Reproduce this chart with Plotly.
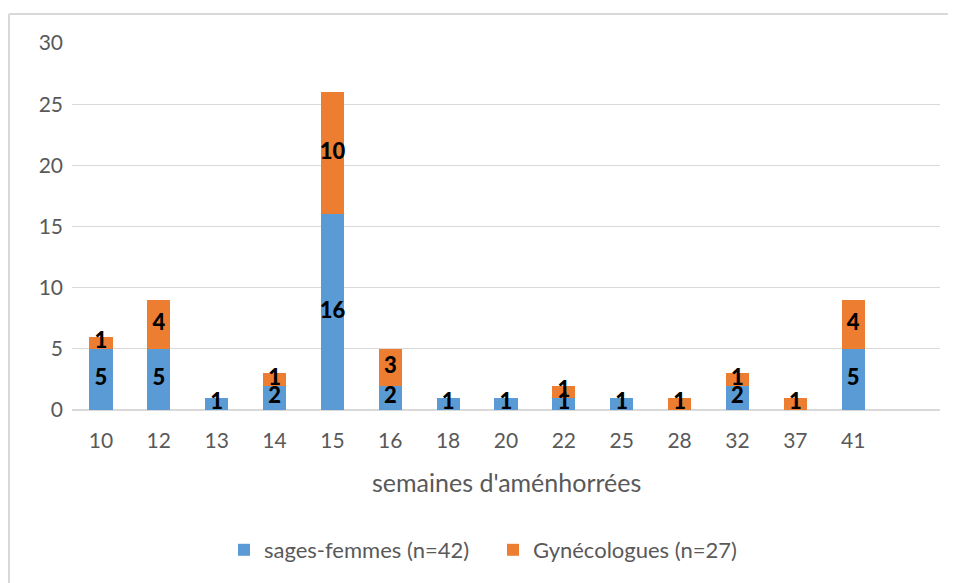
import plotly.graph_objects as go

categories = ["10", "12", "13", "14", "15", "16", "18", "20", "22", "25", "28", "32", "37", "41"]
sages_femmes = [5, 5, 1, 2, 16, 2, 1, 1, 1, 1, 0, 2, 0, 5]
gynecologues = [1, 4, 0, 1, 10, 3, 0, 0, 1, 0, 1, 1, 1, 4]
y_ticks = [0, 5, 10, 15, 20, 25, 30]

FONT = "Lato"
GREY = "#595959"
W, H = 948, 575          # page body has an 8px margin
PW, PH = 868, 367        # plot area size

fig = go.Figure()
fig.add_trace(go.Bar(x=categories, y=sages_femmes, name="sages-femmes (n=42)",
                     marker=dict(color="#5B9BD5", line=dict(width=0)), width=0.4))
fig.add_trace(go.Bar(x=categories, y=gynecologues, name="Gynécologues (n=27)",
                     marker=dict(color="#ED7D31", line=dict(width=0)), width=0.4))

# data labels at the middle of each segment (derived from data)
lab_x, lab_y, lab_t = [], [], []
for c, s, g in zip(categories, sages_femmes, gynecologues):
    if s:
        lab_x.append(c); lab_y.append(s / 2); lab_t.append(str(s))
    if g:
        lab_x.append(c); lab_y.append(s + g / 2); lab_t.append(str(g))
fig.add_trace(go.Scatter(x=lab_x, y=lab_y, text=lab_t, mode="text", showlegend=False,
                         hoverinfo="skip", cliponaxis=False,
                         textfont=dict(family=FONT, size=22, color="black", weight=900)))

border = dict(color="#D9D9D9", width=2)
fig.update_layout(
    barmode="stack",
    width=W, height=H,
    paper_bgcolor="white", plot_bgcolor="white",
    margin=dict(l=64, r=W - 64 - PW, t=35, b=H - 35 - PH, autoexpand=False),
    font=dict(family=FONT, color=GREY, size=21),
    showlegend=True,
    legend=dict(orientation="h", x=0.485, xanchor="center", y=-140 / PH, yanchor="middle",
                font=dict(size=22, color=GREY), traceorder="normal", itemwidth=30,
                entrywidth=224),
    xaxis=dict(type="category", range=[-0.5, 14.5], showgrid=False, showline=False,
               ticks="", tickfont=dict(size=21, color=GREY), ticklabelstandoff=16),
    yaxis=dict(range=[0, 30], tickvals=y_ticks, showgrid=True, gridcolor="#D9D9D9",
               gridwidth=1, zeroline=True, zerolinecolor="#D9D9D9", ticks="",
               ticklabelstandoff=8, tickfont=dict(size=21, color=GREY)),
    annotations=[dict(text="semaines d'aménhorrées", xref="paper", yref="paper",
                      x=0.5, y=-72 / PH,
                      xanchor="center", yanchor="middle", showarrow=False,
                      font=dict(size=25, color=GREY, family=FONT))],
    shapes=[
        dict(type="line", xref="paper", yref="paper",
             x0=-63 / PW, x1=-63 / PW, y0=-0.8, y1=1 + 29 / PH, line=border, layer="below"),
        dict(type="line", xref="paper", yref="paper",
             x0=-63 / PW, x1=1.2, y0=1 + 29 / PH, y1=1 + 29 / PH, line=border, layer="below"),
    ],
)
fig.write_html("out.html")
